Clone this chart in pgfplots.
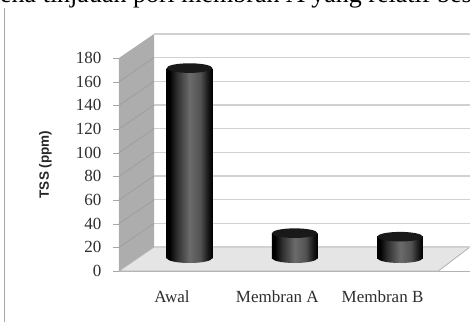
\documentclass[border=0pt]{standalone}
\usepackage{fontspec}
\setmainfont{Liberation Serif}
\newfontfamily\labelsans{Liberation Sans}
\usepackage{pgfplots}
\pgfplotsset{compat=1.18}
\definecolor{wall}{gray}{0.68}
\definecolor{wallgrid}{gray}{0.62}
\definecolor{backgrid}{gray}{0.82}
\definecolor{floorfill}{gray}{0.90}
\definecolor{inktext}{gray}{0.18}
\pgfdeclarehorizontalshading{cylbody}{100bp}{
  color(0bp)=(black); color(28bp)=(black); color(36bp)=(black!82);
  color(50bp)=(black!58); color(62bp)=(black!68); color(70bp)=(black!90); color(75bp)=(black); color(100bp)=(black)}
\pgfdeclareplotmark{cyltop}{\pgfpathellipse{\pgfpointorigin}{\pgfqpoint{22.8pt}{0pt}}{\pgfqpoint{0pt}{4.8pt}}\pgfusepathqfill}
\pgfdeclareplotmark{cylbase}{\pgfpathellipse{\pgfpointorigin}{\pgfqpoint{22.8pt}{0pt}}{\pgfqpoint{0pt}{5pt}}\pgfshadepath{cylbody}{0}\pgfusepath{discard}}
\pgfplotsset{
  stage/.style={
    scale only axis, width=351pt, height=213pt,
    xmin=-0.5036, xmax=2.831, ymin=0, ymax=180, clip=false,
  },
  cylinder bar/.style={draw=none,shading=cylbody,forget plot},
}
\begin{document}
\begin{tikzpicture}
\clip[use as bounding box] (-119pt,-51pt) rectangle (351pt,271pt);

% running text of the page above the figure
\node[anchor=base west,inner sep=0pt,font=\fontsize{26}{26}\selectfont] at (-119pt,268.5pt)
  {ena tinjauan pori membran A yang relatif besar};
% page rule on the left
\draw[gray!70,line width=1.3pt] (-114.5pt,-51pt) -- (-114.5pt,263pt);

% 3-D frame: side wall, floor and grid, on the value scale of the front plane
\begin{axis}[
  stage,
  axis x line*=bottom, axis y line*=left,
  axis line style={draw=gray!60,-},
  xtick={0,1,2}, xticklabels={Awal,Membran A,Membran B},
  ytick={0,20,...,180},
  tick align=outside, major tick length=6pt,
  x tick style={draw=none}, y tick style={draw=gray!70},
  xticklabel style={font=\fontsize{17}{17}\selectfont,text=inktext,yshift=-10.5pt},
  yticklabel style={font=\fontsize{17}{17}\selectfont,text=inktext,xshift=-8pt},
  /pgf/number format/assume math mode=true,
  ylabel={TSS (ppm)},
  ylabel style={font=\labelsans\bfseries\fontsize{13.5}{13.5}\selectfont,text=black!85,at={(axis description cs:-0.182,0.5)},anchor=south},
]
\addplot[draw=none,fill=wall,forget plot] coordinates {
  (-0.5036,0) (-0.5036,180) (-0.171,200.28) (-0.171,20.28)} -- cycle;
\addplot[draw=gray!60,line width=0.8pt,fill=floorfill,forget plot] coordinates {
  (-0.5036,0) (2.53,0) (2.831,20.28) (-0.171,20.28)} -- cycle;
% back wall grid
\addplot[backgrid,line width=1.2pt,forget plot,unbounded coords=jump] coordinates {
  (-0.171,20.28) (2.831,20.28) (0,nan)
  (-0.171,40.28) (2.831,40.28) (0,nan)
  (-0.171,60.28) (2.831,60.28) (0,nan)
  (-0.171,80.28) (2.831,80.28) (0,nan)
  (-0.171,100.28) (2.831,100.28) (0,nan)
  (-0.171,120.28) (2.831,120.28) (0,nan)
  (-0.171,140.28) (2.831,140.28) (0,nan)
  (-0.171,160.28) (2.831,160.28) (0,nan)
  (-0.171,180.28) (2.831,180.28) (0,nan)
  (-0.171,200.28) (2.831,200.28)};
% side wall grid
\addplot[wallgrid,line width=0.8pt,forget plot,unbounded coords=jump] coordinates {
  (-0.5036,20) (-0.171,40.28) (0,nan)
  (-0.5036,40) (-0.171,60.28) (0,nan)
  (-0.5036,60) (-0.171,80.28) (0,nan)
  (-0.5036,80) (-0.171,100.28) (0,nan)
  (-0.5036,100) (-0.171,120.28) (0,nan)
  (-0.5036,120) (-0.171,140.28) (0,nan)
  (-0.5036,140) (-0.171,160.28) (0,nan)
  (-0.5036,160) (-0.171,180.28)};
\end{axis}

% cylinders stand on the floor, set back from the front plane
\begin{axis}[
  stage, hide axis, xshift=17.5pt, yshift=13pt,
  ybar, bar width=0.433, bar shift=0pt,
]
\addplot[only marks,mark=cylbase,forget plot] coordinates {(0,0)};
\addplot[only marks,mark=cylbase,forget plot] coordinates {(1,0)};
\addplot[only marks,mark=cylbase,forget plot] coordinates {(2,0)};
\addplot[cylinder bar] coordinates {(0,160.5)};
\addplot[cylinder bar] coordinates {(1,21)};
\addplot[cylinder bar] coordinates {(2,18)};
\addplot[draw=none,only marks,mark=cyltop,mark options={fill=black!90,draw=none},forget plot]
  coordinates {(0,160.5) (1,21) (2,18)};
\end{axis}
\end{tikzpicture}
\end{document}
